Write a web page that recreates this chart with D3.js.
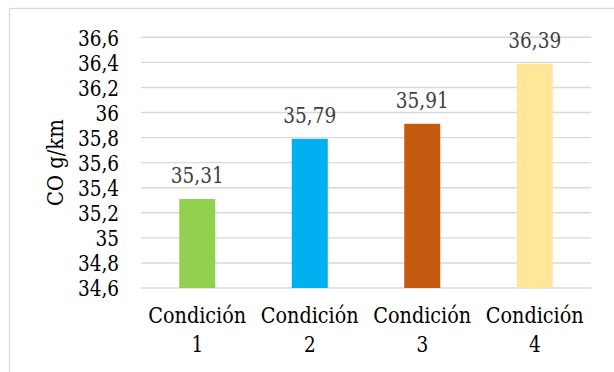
<!DOCTYPE html>
<html>
<head>
<meta charset="utf-8">
<script src="https://cdn.jsdelivr.net/npm/d3@7"></script>
<style>
  html, body { margin: 0; padding: 0; background: #fff; }
</style>
</head>
<body>
<svg id="chart" width="614" height="372"></svg>
<script>
const categories = [["Condición", "1"], ["Condición", "2"], ["Condición", "3"], ["Condición", "4"]]
const values = [35.31, 35.79, 35.91, 36.39]
const bar_colors = ["#92D050", "#00B0F0", "#C55A11", "#FFE699"]
const y_ticks = [34.6, 34.8, 35, 35.2, 35.4, 35.6, 35.8, 36, 36.2, 36.4, 36.6]
const y_title = "CO g/km"

const svg = d3.select("#chart")
const font_family = "DejaVu Serif"
const font_size = 22       // glyph height close to the reference
const ref_em = 23.5        // width of the original (Times-like) text
const fmt = v => String(+v.toFixed(2)).replace(".", ",")

// Times advance widths, to squeeze the wider serif that is installed
const times_w = { "0": .5, "1": .5, "2": .5, "3": .5, "4": .5, "5": .5, "6": .5, "7": .5, "8": .5, "9": .5,
    ",": .25, "C": .667, "o": .5, "n": .5, "d": .5, "i": .278, "c": .444, "ó": .5,
    "O": .722, " ": .25, "g": .5, "/": .278, "k": .5, "m": .778 }
const text_len = s => [...s].reduce((a, ch) => a + (times_w[ch] || .5), 0) * ref_em

function addText(parent, s) {
    return parent.append("text")
        .attr("font-family", font_family)
        .attr("font-size", font_size)
        .attr("textLength", text_len(s))
        .attr("lengthAdjust", "spacingAndGlyphs")
        .text(s)
}

// frame round the chart area
svg.append("rect")
    .attr("x", 9.5).attr("y", 8.5)
    .attr("width", 700).attr("height", 500)
    .attr("fill", "none")
    .attr("stroke", "#d9d9d9")
    .attr("stroke-width", 1.3)

const x = d3.scaleBand()
    .domain(d3.range(categories.length))
    .range([141, 591])
    .paddingInner(0.68)
    .paddingOuter(0.34)

const y = d3.scaleLinear()
    .domain([34.6, 36.6])
    .range([288, 37.3])

// gridlines
svg.append("g")
    .selectAll("line")
    .data(y_ticks)
    .enter()
    .append("line")
    .attr("x1", 141).attr("x2", 591)
    .attr("y1", d => y(d)).attr("y2", d => y(d))
    .attr("stroke", "#d9d9d9")
    .attr("stroke-width", 1.4)

// y tick labels
const y_lab = svg.append("g")
y_ticks.forEach(d => {
    addText(y_lab, fmt(d))
        .attr("x", 119)
        .attr("y", y(d) + 8.2)
        .attr("text-anchor", "end")
        .attr("fill", "#000")
})

// bars
svg.append("g")
    .selectAll("rect")
    .data(values)
    .enter()
    .append("rect")
    .attr("x", (d, i) => x(i))
    .attr("y", d => y(d))
    .attr("width", x.bandwidth())
    .attr("height", d => y(34.6) - y(d))
    .attr("fill", (d, i) => bar_colors[i])

// value labels
const v_lab = svg.append("g")
values.forEach((d, i) => {
    addText(v_lab, fmt(d))
        .attr("x", x(i) + x.bandwidth() / 2)
        .attr("y", y(d) - 16)
        .attr("text-anchor", "middle")
        .attr("fill", "#404040")
})

// category labels (two lines)
const c_lab = svg.append("g")
categories.forEach((lines, i) => {
    lines.forEach((line, k) => {
        addText(c_lab, line)
            .attr("x", x(i) + x.bandwidth() / 2)
            .attr("y", 323 + k * 29)
            .attr("text-anchor", "middle")
            .attr("fill", "#000")
    })
})

// y axis title
addText(svg, y_title)
    .attr("transform", "translate(63," + y(35.6) + ") rotate(-90)")
    .attr("text-anchor", "middle")
    .attr("fill", "#000")
</script>
</body>
</html>
